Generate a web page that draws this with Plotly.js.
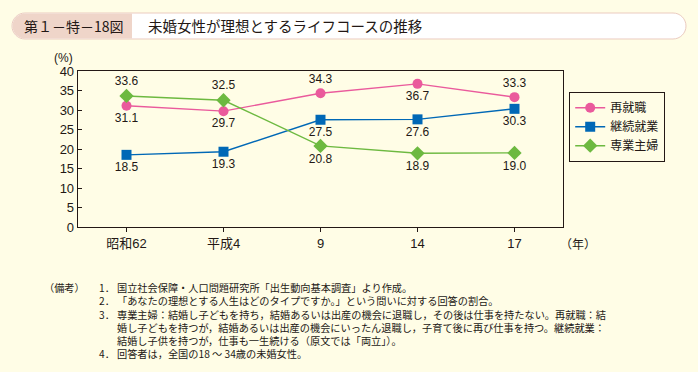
<!DOCTYPE html>
<html>
<head>
<meta charset="utf-8">
<script src="https://cdn.plot.ly/plotly-3.0.1.min.js"></script>
<style>
html,body{margin:0;padding:0;background:#FFFDE6;}
#chart{width:698px;height:372px;}
</style>
</head>
<body>
<div id="chart"></div>
<script>
// ---- data ----
const categories = ["昭和62", "平成4", "9", "14", "17"];
const seriesNames = ["再就職", "継続就業", "専業主婦"];
const saishushoku = [31.1, 29.7, 34.3, 36.7, 33.3];
const keizokushugyo = [18.5, 19.3, 27.5, 27.6, 30.3];
const sengyoshufu = [33.6, 32.5, 20.8, 18.9, 19.0];
const yTicks = [0, 5, 10, 15, 20, 25, 30, 35, 40];
const titleNumber = "第１－特－18図";
const titleText = "未婚女性が理想とするライフコースの推移";
const noteNumbers = ["1．", "2．", "3．", "", "", "4．"];
const noteLines = [
  "国立社会保障・人口問題研究所「出生動向基本調査」より作成。",
  "「あなたの理想とする人生はどのタイプですか。」という問いに対する回答の割合。",
  "専業主婦：結婚し子どもを持ち，結婚あるいは出産の機会に退職し，その後は仕事を持たない。再就職：結",
  "婚し子どもを持つが，結婚あるいは出産の機会にいったん退職し，子育て後に再び仕事を持つ。継続就業：",
  "結婚し子供を持つが，仕事も一生続ける（原文では「両立」）。",
  "回答者は，全国の18 ～ 34歳の未婚女性。"
];

// ---- layout helpers (pixel -> paper) ----
const L = 78, R = 563, T = 71, B = 227;
function px(x){ return (x - L) / (R - L); }
function py(y){ return (B - y) / (B - T); }
function P(x, y){ return px(x).toFixed(5) + "," + py(y).toFixed(5); }
function roundRect(x1, y1, x2, y2, rl, rr){
  const k = 0.5523;
  let d = "M" + P(x1 + rl, y1) + " L" + P(x2 - rr, y1);
  if (rr > 0) {
    d += " C" + P(x2 - rr + rr*k, y1) + " " + P(x2, y1 + rr - rr*k) + " " + P(x2, y1 + rr);
    d += " C" + P(x2, y2 - rr + rr*k) + " " + P(x2 - rr + rr*k, y2) + " " + P(x2 - rr, y2);
  } else {
    d += " L" + P(x2, y1) + " L" + P(x2, y2);
  }
  d += " L" + P(x1 + rl, y2);
  if (rl > 0) {
    d += " C" + P(x1 + rl - rl*k, y2) + " " + P(x1, y2 - rl + rl*k) + " " + P(x1, y2 - rl);
    d += " C" + P(x1, y1 + rl - rl*k) + " " + P(x1 + rl - rl*k, y1) + " " + P(x1 + rl, y1);
  } else {
    d += " L" + P(x1, y2) + " L" + P(x1, y1);
  }
  return d + " Z";
}

const fontSans = "Liberation Sans, Noto Sans CJK JP, sans-serif";
const fontJP = "Noto Sans CJK JP, sans-serif";
const txtColor = "#231815";

const traces = [
  {
    x: categories, y: saishushoku, name: seriesNames[0],
    mode: "lines+markers+text",
    line: {color: "#EA5A9C", width: 1.4},
    marker: {symbol: "circle", size: 10, color: "#EA5A9C"},
    text: saishushoku.map(v => v.toFixed(1)),
    textposition: ["bottom center", "bottom center", "top center", "bottom center", "top center"],
    textfont: {family: fontSans, size: 12, color: txtColor},
    cliponaxis: false
  },
  {
    x: categories, y: keizokushugyo, name: seriesNames[1],
    mode: "lines+markers+text",
    line: {color: "#0068B6", width: 1.4},
    marker: {symbol: "square", size: 10, color: "#0068B6"},
    text: keizokushugyo.map(v => v.toFixed(1)),
    textposition: "bottom center",
    textfont: {family: fontSans, size: 12, color: txtColor},
    cliponaxis: false
  },
  {
    x: categories, y: sengyoshufu, name: seriesNames[2],
    mode: "lines+markers+text",
    line: {color: "#6DB940", width: 1.4},
    marker: {symbol: "diamond", size: 11, color: "#6DB940"},
    text: sengyoshufu.map(v => v.toFixed(1)),
    textposition: ["top center", "top center", "bottom center", "bottom center", "bottom center"],
    textfont: {family: fontSans, size: 12, color: txtColor},
    cliponaxis: false
  }
];

const noteSize = 10.2;
const annotations = [
  {xref: "paper", yref: "paper", x: px(22), y: py(26), xanchor: "left", yanchor: "middle",
   text: titleNumber, showarrow: false, font: {family: fontJP, size: 14, color: txtColor}},
  {xref: "paper", yref: "paper", x: px(146), y: py(26), xanchor: "left", yanchor: "middle",
   text: titleText, showarrow: false, font: {family: fontJP, size: 14.5, color: txtColor}},
  {xref: "paper", yref: "paper", x: px(63), y: py(58), xanchor: "center", yanchor: "middle",
   text: "(%)", showarrow: false, font: {family: fontSans, size: 12, color: txtColor}},
  {xref: "paper", yref: "paper", x: px(578), y: py(243), xanchor: "center", yanchor: "middle",
   text: "（年）", showarrow: false, font: {family: fontJP, size: 12, color: txtColor}},
  {xref: "paper", yref: "paper", x: px(42), y: py(278), xanchor: "left", yanchor: "top",
   text: "（備考）", showarrow: false, font: {family: fontJP, size: noteSize, color: txtColor}},
  {xref: "paper", yref: "paper", x: px(97), y: py(278), xanchor: "left", yanchor: "top", align: "left",
   text: noteNumbers.map(n => n || " ").join("<br>"), showarrow: false,
   font: {family: fontJP, size: noteSize, color: txtColor}},
  {xref: "paper", yref: "paper", x: px(115), y: py(278), xanchor: "left", yanchor: "top", align: "left",
   text: noteLines.join("<br>"), showarrow: false,
   font: {family: fontJP, size: noteSize, color: txtColor}}
];

const shapes = [
  {type: "path", xref: "paper", yref: "paper", layer: "below",
   path: roundRect(12, 13, 686, 39, 13, 13), fillcolor: "#FFFFFF", line: {color: "#EBCBC0", width: 1}},
  {type: "path", xref: "paper", yref: "paper", layer: "below",
   path: roundRect(12.5, 13.5, 132, 38.5, 12.5, 0), fillcolor: "#EFD5C9", line: {width: 0}}
];

const layout = {
  width: 698, height: 372,
  paper_bgcolor: "#FFFDE6", plot_bgcolor: "rgba(0,0,0,0)",
  margin: {l: L, r: 698 - R, t: T, b: 372 - B, pad: 0},
  showlegend: true,
  legend: {
    x: px(569), y: py(92), xanchor: "left", yanchor: "top",
    bgcolor: "rgba(0,0,0,0)", bordercolor: "#231815", borderwidth: 1.2,
    font: {family: fontJP, size: 12, color: txtColor},
    itemwidth: 30, tracegroupgap: 0
  },
  xaxis: {
    type: "category", categoryorder: "array", categoryarray: categories,
    range: [-0.5, 4.5], fixedrange: true,
    showline: true, mirror: true, linecolor: "#231815", linewidth: 1.3,
    ticks: "outside", ticklen: 4, tickcolor: "#231815", tickwidth: 1,
    showgrid: false, zeroline: false,
    tickfont: {family: fontSans, size: 13, color: txtColor}
  },
  yaxis: {
    range: [0, 40], tickvals: yTicks, fixedrange: true,
    showline: true, mirror: true, linecolor: "#231815", linewidth: 1.3,
    ticks: "inside", ticklen: 4, tickcolor: "#231815", tickwidth: 1,
    showgrid: false, zeroline: false,
    tickfont: {family: fontSans, size: 13, color: txtColor}
  },
  annotations: annotations,
  shapes: shapes
};

Plotly.newPlot("chart", traces, layout, {displayModeBar: false, staticPlot: true});
</script>
</body>
</html>
